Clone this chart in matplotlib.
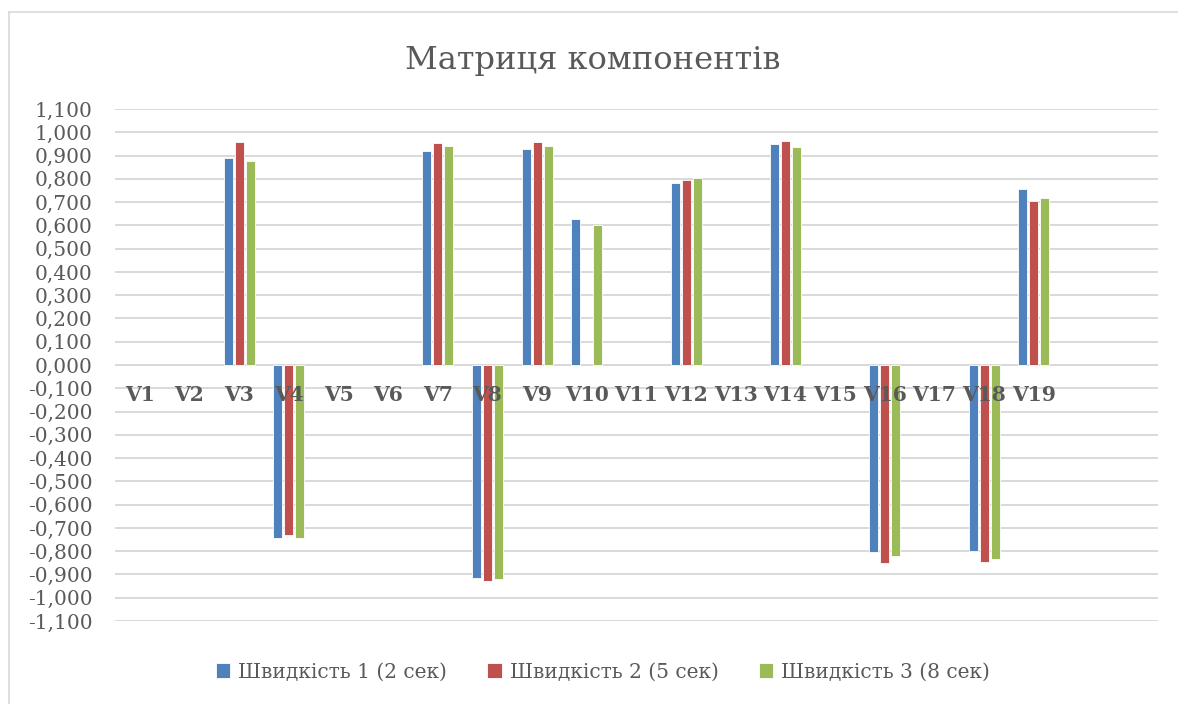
import numpy as np
import matplotlib
matplotlib.use('Agg')
import matplotlib.pyplot as plt
from matplotlib.lines import Line2D

# ── Data ────────────────────────────────────────────────────
categories = ['V1', 'V2', 'V3', 'V4', 'V5', 'V6', 'V7', 'V8', 'V9', 'V10',
              'V11', 'V12', 'V13', 'V14', 'V15', 'V16', 'V17', 'V18', 'V19', '', '']
nan = np.nan
speed1 = [nan, nan, 0.891, -0.742, nan, nan, 0.920, -0.917, 0.928, 0.629,
          nan, 0.782, nan, 0.948, nan, -0.805, nan, -0.801, 0.755, nan, nan]
speed2 = [nan, nan, 0.957, -0.732, nan, nan, 0.954, -0.927, 0.957, nan,
          nan, 0.794, nan, 0.963, nan, -0.852, nan, -0.848, 0.705, nan, nan]
speed3 = [nan, nan, 0.875, -0.742, nan, nan, 0.940, -0.921, 0.941, 0.600,
          nan, 0.804, nan, 0.937, nan, -0.821, nan, -0.834, 0.716, nan, nan]
series_names = ['Швидкість 1 (2 сек)', 'Швидкість 2 (5 сек)', 'Швидкість 3 (8 сек)']
y_ticks = np.round(np.arange(-1.1, 1.1001, 0.1), 1)

# ── Style ───────────────────────────────────────────────────
BLUE = '#4F81BD'
RED = '#C0504D'
GREEN = '#9BBB59'
TEXT = '#595959'
GRID = '#D9D9D9'
SERIF = 'DejaVu Serif'

W, H = 1178, 704
fig = plt.figure(figsize=(W / 100, H / 100), dpi=100)
ax = fig.add_axes([115 / W, 1 - 621 / H, (1158 - 115) / W, (621 - 109) / H])

x = np.arange(len(categories))
bw, step = 0.18, 0.22
for j, (vals, col, name) in enumerate(zip([speed1, speed2, speed3], [BLUE, RED, GREEN], series_names)):
    ax.bar(x + (j - 1) * step, vals, width=bw, color=col, edgecolor='white',
           linewidth=0.6, label=name, zorder=3)

ax.set_xlim(-0.5, len(categories) - 0.5)
ax.set_ylim(-1.1, 1.1)
ax.set_yticks(y_ticks)
ax.set_yticklabels([f'{v:.3f}'.replace('.', ',') for v in y_ticks],
                   fontfamily=SERIF, fontsize=14.5, color=TEXT)
ax.yaxis.grid(True, color=GRID, linewidth=1.4, zorder=0)
ax.set_axisbelow(True)
ax.set_xticks([])
for s in ['top', 'right', 'left', 'bottom']:
    ax.spines[s].set_visible(False)
ax.axhline(0, color=GRID, linewidth=1.4, zorder=1)
ax.tick_params(axis='y', length=0, pad=16)

# category names sit just under the zero line, drawn over the bars
for xi, cat in zip(x, categories):
    ax.annotate(cat, (xi, 0), xytext=(0, -30), textcoords='offset pixels',
                ha='center', va='center', fontfamily=SERIF, fontweight='bold',
                fontsize=14.6, color=TEXT, zorder=5)

fig.text(593 / W, 1 - 60 / H, 'Матриця компонентів', ha='center', va='center',
         fontfamily=SERIF, fontsize=23, color=TEXT)

leg = fig.legend(loc='center', bbox_to_anchor=(603 / W, 1 - 672 / H), ncol=3,
                 frameon=False, handlelength=0.7, handleheight=0.8, handletextpad=0.4,
                 columnspacing=2.0, prop={'family': SERIF, 'size': 14.5})
for t in leg.get_texts():
    t.set_color(TEXT)

# chart area border (left and top edges)
fig.add_artist(Line2D([9 / W, 9 / W], [0, 1 - 12 / H], transform=fig.transFigure,
                      color=GRID, linewidth=1.2))
fig.add_artist(Line2D([9 / W, 1], [1 - 12 / H, 1 - 12 / H], transform=fig.transFigure,
                      color=GRID, linewidth=1.2))

fig.savefig('out.png', dpi=100, facecolor='white')
